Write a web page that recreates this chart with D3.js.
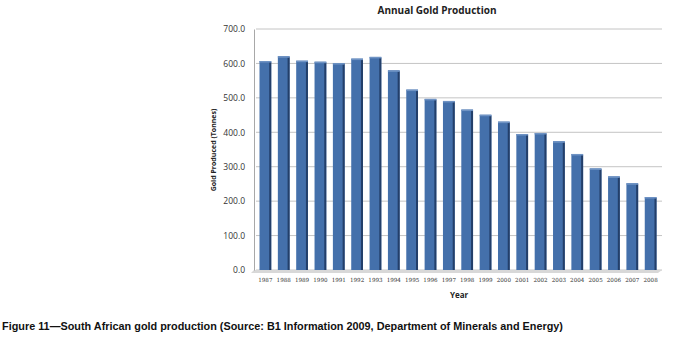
<!DOCTYPE html>
<html>
<head>
<meta charset="utf-8">
<script src="https://cdn.jsdelivr.net/npm/d3@7"></script>
<style>
  body { margin: 0; background: #fff; }
  svg { display: block; }
</style>
</head>
<body>
<svg id="chart" width="673" height="340"></svg>
<script>
// values
const years = ['1987', '1988', '1989', '1990', '1991', '1992', '1993', '1994', '1995', '1996', '1997',
  '1998', '1999', '2000', '2001', '2002', '2003', '2004', '2005', '2006', '2007', '2008'];
const production = [607, 621, 608, 605, 601, 614, 619, 580, 524, 497, 491,
  466, 451, 431, 395, 398, 374, 337, 295, 272, 252, 212];
const yTicks = [0, 100, 200, 300, 400, 500, 600, 700];

const svg = d3.select('#chart');
const margin = {top: 29, right: 11, bottom: 70, left: 254};
const width = 673 - margin.left - margin.right;
const height = 340 - margin.top - margin.bottom;

const x = d3.scaleBand().domain(years).range([0, width]).paddingInner(0.36).paddingOuter(0.3);
const y = d3.scaleLinear().domain([0, 700]).range([height, 0]);

const g = svg.append('g').attr('transform', `translate(${margin.left},${margin.top})`);

// gridlines
g.append('g')
  .selectAll('line')
  .data(yTicks)
  .join('line')
  .attr('x1', 2).attr('x2', width)
  .attr('y1', d => y(d)).attr('y2', d => y(d))
  .attr('stroke', '#c4c4c4')
  .attr('stroke-width', 1);

// floor
g.append('path')
  .attr('d', `M0,${height} L${width},${height} L${width - 4},${height + 3} L-3,${height + 3} Z`)
  .attr('fill', '#d8d8d8');

// left axis
const yAxis = g.append('g')
  .call(d3.axisLeft(y).tickValues(yTicks).tickFormat(d3.format('.1f')).tickSize(0).tickPadding(9));
yAxis.select('.domain').attr('stroke', '#a8a8a8');
yAxis.selectAll('text')
  .attr('font-family', 'Open Sans, sans-serif')
  .attr('font-size', 8.5)
  .attr('fill', '#333');

// bars with a dark right edge for the 3D look
const bars = g.append('g')
  .selectAll('g')
  .data(production)
  .join('g')
  .attr('transform', (d, i) => `translate(${x(years[i])},0)`);

bars.append('rect')
  .attr('x', 0)
  .attr('y', d => y(d))
  .attr('width', x.bandwidth())
  .attr('height', d => y(0) - y(d))
  .attr('fill', '#4470ab');

bars.append('rect')
  .attr('x', x.bandwidth() - 2)
  .attr('y', d => y(d) + 1)
  .attr('width', 2)
  .attr('height', d => y(0) - y(d) - 1)
  .attr('fill', '#233f6a');

bars.append('rect')
  .attr('x', 0)
  .attr('y', d => y(d))
  .attr('width', x.bandwidth())
  .attr('height', 1.5)
  .attr('fill', '#6f93c4');

// x axis labels
const xAxis = g.append('g')
  .attr('transform', `translate(0,${height})`)
  .call(d3.axisBottom(x).tickSize(0).tickPadding(8));
xAxis.select('.domain').remove();
xAxis.selectAll('text')
  .attr('font-family', 'DejaVu Serif, serif')
  .attr('font-size', 5.6)
  .attr('fill', '#333');

// titles
svg.append('text')
  .attr('x', 437).attr('y', 14)
  .attr('text-anchor', 'middle')
  .attr('font-family', 'Open Sans, sans-serif')
  .attr('font-size', 10)
  .attr('font-weight', 'bold')
  .attr('fill', '#222')
  .text('Annual Gold Production');

svg.append('text')
  .attr('transform', 'translate(216,150) rotate(-90)')
  .attr('text-anchor', 'middle')
  .attr('font-family', 'Open Sans, sans-serif')
  .attr('font-size', 7)
  .attr('font-weight', 'bold')
  .attr('fill', '#222')
  .text('Gold Produced (Tonnes)');

svg.append('text')
  .attr('x', 459).attr('y', 298)
  .attr('text-anchor', 'middle')
  .attr('font-family', 'Open Sans, sans-serif')
  .attr('font-size', 8)
  .attr('font-weight', 'bold')
  .attr('fill', '#222')
  .text('Year');

svg.append('text')
  .attr('x', 2).attr('y', 330)
  .attr('font-family', 'Liberation Sans Narrow, Arial Narrow, sans-serif')
  .attr('font-size', 11)
  .attr('font-weight', 'bold')
  .attr('fill', '#111')
  .attr('textLength', 561)
  .attr('lengthAdjust', 'spacingAndGlyphs')
  .text('Figure 11\u2014South African gold production (Source: B1 Information 2009, Department of Minerals and Energy)');
</script>
</body>
</html>
